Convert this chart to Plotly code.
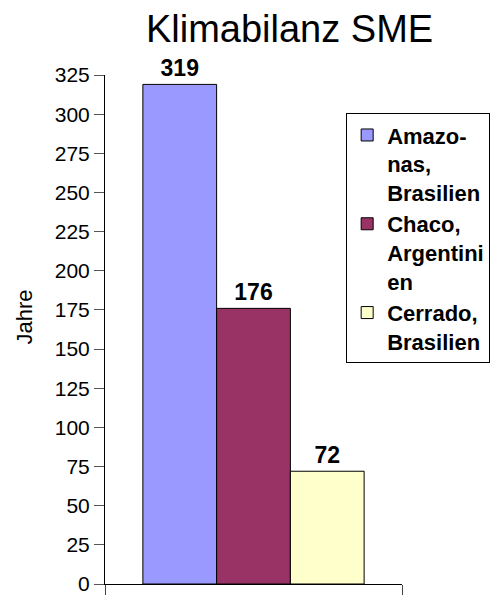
import plotly.graph_objects as go

series_names = ["Amazo-<br>nas,<br>Brasilien", "Chaco,<br>Argentini<br>en", "Cerrado,<br>Brasilien"]
series_values = [319, 176, 72]
series_colors = ["#9999FF", "#993366", "#FFFFCC"]
category = [0]
y_ticks = list(range(0, 326, 25))

FONT = "Liberation Sans, Arial, Helvetica, sans-serif"

fig = go.Figure()
for name, val, col in zip(series_names, series_values, series_colors):
    fig.add_trace(go.Bar(
        x=category, y=[val], name=name,
        marker=dict(color=col, line=dict(color="black", width=1)),
        text=[str(val)], textposition="outside",
        textfont=dict(family=FONT, size=23, color="black", weight="bold"),
        cliponaxis=False,
    ))

fig.update_layout(
    width=501, height=605,
    paper_bgcolor="white", plot_bgcolor="white",
    margin=dict(l=105, r=98, t=75, b=11),
    barmode="group", bargap=0.255, bargroupgap=0,
    font=dict(family=FONT, color="black"),
    title=dict(text="Klimabilanz SME", x=0.578, xanchor="center",
               y=1 - 29 / 605, yanchor="middle",
               font=dict(family=FONT, size=38, color="black")),
    legend=dict(x=0.812, y=0.925, xanchor="left", yanchor="top",
                bordercolor="black", borderwidth=1, bgcolor="white",
                font=dict(family=FONT, size=22, color="black", weight="bold"),
                valign="top", tracegroupgap=4),
    xaxis=dict(range=[-0.5, 0.5], tickvals=[-0.5, 0.5], showticklabels=False,
               ticks="outside", ticklen=10, tickcolor="#444", showline=True,
               linecolor="black", linewidth=1, showgrid=False, zeroline=False),
    yaxis=dict(range=[0, 325], tickvals=y_ticks, ticks="outside", ticklen=10,
               tickcolor="#555", showline=True, linecolor="black", linewidth=1,
               showgrid=False, zeroline=False,
               tickfont=dict(family=FONT, size=21, color="black")),
    annotations=[dict(text="Jahre", xref="paper", yref="paper",
                      x=(24 - 105) / 298, y=(594 - 322) / 519, textangle=-90,
                      showarrow=False, xanchor="center", yanchor="middle",
                      font=dict(family=FONT, size=22, color="black"))],
)

fig.write_html("out.html")
